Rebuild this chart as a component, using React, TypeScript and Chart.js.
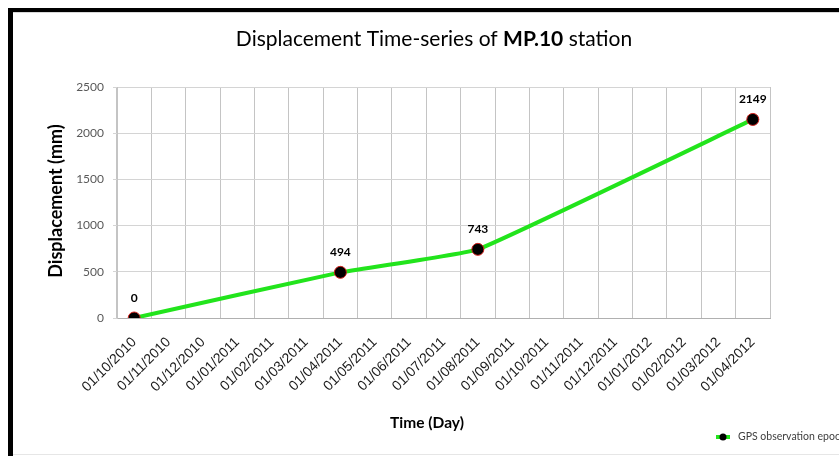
import { useEffect, useRef } from 'react';
import { Chart, registerables } from 'chart.js';

Chart.register(...registerables);

const categories = [
  '01/10/2010', '01/11/2010', '01/12/2010', '01/01/2011', '01/02/2011', '01/03/2011',
  '01/04/2011', '01/05/2011', '01/06/2011', '01/07/2011', '01/08/2011', '01/09/2011',
  '01/10/2011', '01/11/2011', '01/12/2011', '01/01/2012', '01/02/2012', '01/03/2012',
  '01/04/2012',
];
const displacement: (number | null)[] = [
  0, null, null, null, null, null, 494, null, null, null, 743, null, null, null, null, null, null, null, 2149,
];
const yMin = 0;
const yMax = 2500;
const yStep = 500;
const titleParts = ['Displacement Time-series of ', 'MP.10', ' station'];
const yTitle = 'Displacement (mm)';
const xTitle = 'Time (Day)';
const legendLabel = 'GPS observation epoch';

const FONT = 'Lato, "Open Sans", sans-serif';

const decorPlugin = {
  id: 'decor',
  afterDraw(chart: any) {
    const ctx = chart.ctx as CanvasRenderingContext2D;
    const W = chart.width;
    const H = chart.height;
    ctx.save();
    // title with bold part
    const fN = `21px ${FONT}`;
    const fB = `bold 21px ${FONT}`;
    ctx.textBaseline = 'middle';
    ctx.fillStyle = '#000';
    ctx.font = fN;
    const w0 = ctx.measureText(titleParts[0]).width;
    const w2 = ctx.measureText(titleParts[2]).width;
    ctx.font = fB;
    const w1 = ctx.measureText(titleParts[1]).width;
    let x = 434 - (w0 + w1 + w2) / 2;
    ctx.textAlign = 'left';
    ctx.font = fN;
    ctx.fillText(titleParts[0], x, 39);
    x += w0;
    ctx.font = fB;
    ctx.fillText(titleParts[1], x, 39);
    x += w1;
    ctx.font = fN;
    ctx.fillText(titleParts[2], x, 39);

    // y title
    ctx.save();
    ctx.translate(56, 201);
    ctx.rotate(-Math.PI / 2);
    ctx.textAlign = 'center';
    ctx.font = `bold 18px ${FONT}`;
    ctx.fillStyle = '#000';
    ctx.fillText(yTitle, 0, 0);
    ctx.restore();

    // x title
    ctx.textAlign = 'center';
    ctx.font = `bold 15.5px ${FONT}`;
    ctx.fillText(xTitle, 427, 423);

    // data labels
    const meta = chart.getDatasetMeta(0);
    ctx.font = `bold 12px ${FONT}`;
    ctx.fillStyle = '#000';
    meta.data.forEach((pt: any, i: number) => {
      const v = displacement[i];
      if (v === null || v === undefined) return;
      ctx.fillText(String(v), pt.x, pt.y - 20);
    });

    // legend
    ctx.strokeStyle = '#22e41c';
    ctx.lineWidth = 4;
    ctx.beginPath();
    ctx.moveTo(716, 437);
    ctx.lineTo(730, 437);
    ctx.stroke();
    ctx.fillStyle = '#000';
    ctx.beginPath();
    ctx.arc(723, 437, 3.5, 0, Math.PI * 2);
    ctx.fill();
    ctx.font = `10.5px ${FONT}`;
    ctx.textAlign = 'left';
    ctx.fillStyle = '#404040';
    ctx.fillText(legendLabel, 738, 437);

    // frame
    ctx.fillStyle = '#000';
    ctx.fillRect(8, 8, W - 8, 4);
    ctx.fillRect(8, 8, 5, H - 8);
    ctx.fillStyle = '#d8d8d8';
    ctx.fillRect(13, 12, W - 13, 1);
    ctx.fillStyle = '#e6e6e6';
    ctx.fillRect(13, 454, W - 13, 1);
    ctx.restore();
  },
};

export default function App() {
  const ref = useRef<HTMLCanvasElement>(null);
  useEffect(() => {
    if (!ref.current) return;
    const chart = new Chart(ref.current, {
      type: 'line',
      data: {
        labels: categories,
        datasets: [
          {
            label: legendLabel,
            data: displacement,
            borderColor: '#22e41c',
            borderWidth: 4,
            pointBackgroundColor: '#000',
            pointBorderColor: '#d0201c',
            pointBorderWidth: 1,
            pointRadius: 6,
            spanGaps: true,
            tension: 0.1,
          },
        ],
      },
      options: {
        responsive: false,
        animation: false,
        layout: { padding: { left: 13, top: 87, right: 69, bottom: 0 } },
        plugins: {
          legend: { display: false },
          title: { display: false },
          tooltip: { enabled: false },
        },
        scales: {
          x: {
            offset: true,
            grid: { offset: true, color: '#c4c4c4', drawTicks: false, lineWidth: 1 },
            border: { color: '#b0b0b0' },
            ticks: {
              maxRotation: 45,
              minRotation: 45,
              autoSkip: false,
              padding: 16,
              color: '#1a1a1a',
              font: { family: '"Liberation Sans", Arial, sans-serif', size: 14 },
            },
            afterFit: (s: any) => { s.height = 138; },
          },
          y: {
            min: yMin,
            max: yMax,
            grid: { color: '#d4d4d4', tickLength: 4 },
            border: { color: '#c4c4c4' },
            ticks: {
              stepSize: yStep,
              padding: 9,
              color: '#595959',
              font: { family: FONT, size: 12 },
              callback: (v: any) => String(v),
            },
            afterFit: (s: any) => { s.width = 104; },
          },
        },
      },
      plugins: [decorPlugin],
    });
    return () => chart.destroy();
  }, []);
  return (
    <div style={{ position: 'fixed', left: 0, top: 0, width: 839, height: 456, background: '#fff' }}>
      <canvas ref={ref} width={839} height={456} style={{ display: 'block' }} />
    </div>
  );
}
